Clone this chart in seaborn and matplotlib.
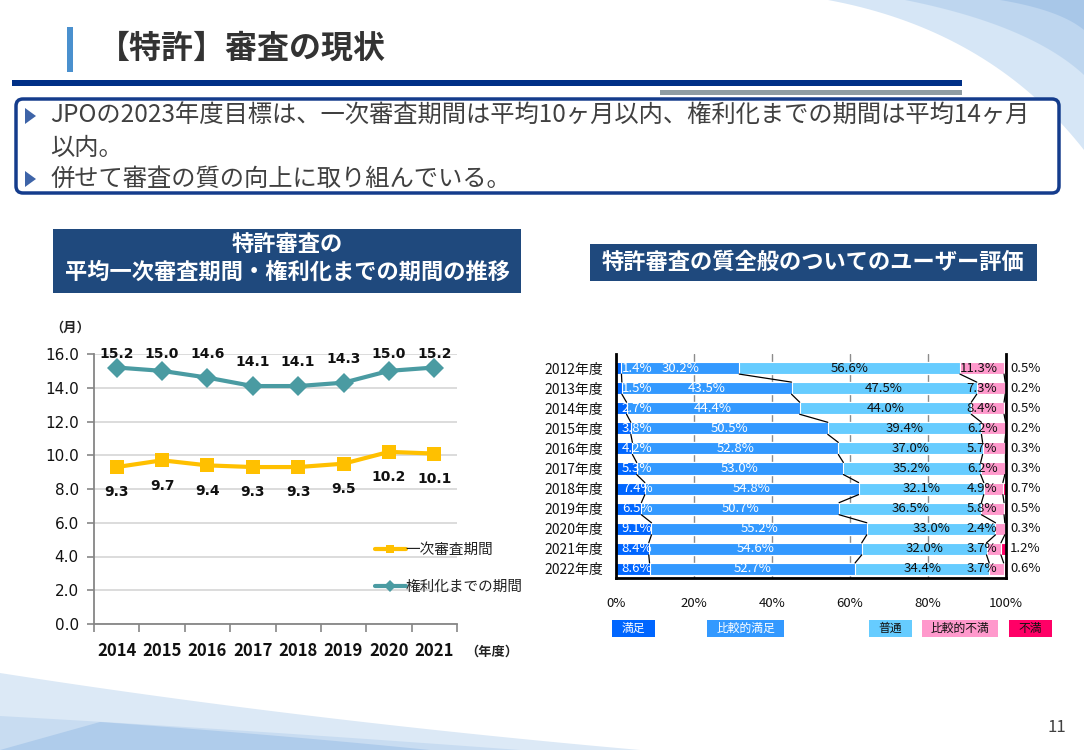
import numpy as np
import pandas as pd
import matplotlib
matplotlib.use("Agg")
import matplotlib.pyplot as plt
import seaborn as sns
from matplotlib.patches import Rectangle, FancyBboxPatch, Polygon

# ---------------- data ----------------
line_years = [2014, 2015, 2016, 2017, 2018, 2019, 2020, 2021]
first_action = [9.3, 9.7, 9.4, 9.3, 9.3, 9.5, 10.2, 10.1]
to_grant = [15.2, 15.0, 14.6, 14.1, 14.1, 14.3, 15.0, 15.2]
line_series = ["一次審査期間", "権利化までの期間"]

bar_years = ["2012年度", "2013年度", "2014年度", "2015年度", "2016年度", "2017年度",
             "2018年度", "2019年度", "2020年度", "2021年度", "2022年度"]
bar_cats = ["満足", "比較的満足", "普通", "比較的不満", "不満"]
satisfied = [1.4, 1.5, 2.7, 3.8, 4.2, 5.3, 7.4, 6.5, 9.1, 8.4, 8.6]
rather_satisfied = [30.2, 43.5, 44.4, 50.5, 52.8, 53.0, 54.8, 50.7, 55.2, 54.6, 52.7]
neutral = [56.6, 47.5, 44.0, 39.4, 37.0, 35.2, 32.1, 36.5, 33.0, 32.0, 34.4]
rather_dissatisfied = [11.3, 7.3, 8.4, 6.2, 5.7, 6.2, 4.9, 5.8, 2.4, 3.7, 3.7]
dissatisfied = [0.5, 0.2, 0.5, 0.2, 0.3, 0.3, 0.7, 0.5, 0.3, 1.2, 0.6]
pct_ticks = [0, 20, 40, 60, 80, 100]

bar_colors = ["#0066FF", "#3399FF", "#66CCFF", "#FF99CC", "#FF0066"]
line_colors = {"一次審査期間": "#FFC000", "権利化までの期間": "#4A9BA2"}

# ---------------- setup ----------------
sns.set_theme(style="white")
plt.rcParams["font.family"] = ["Noto Sans CJK JP", "DejaVu Sans"]

W, H = 1084, 750
fig = plt.figure(figsize=(W / 100, H / 100), dpi=100)
fig.patch.set_facecolor("white")

bg = fig.add_axes([0, 0, 1, 1])
bg.set_xlim(0, W)
bg.set_ylim(H, 0)
bg.axis("off")


def quad(p0, c, p1, n=40):
    t = np.linspace(0, 1, n)[:, None]
    p0, c, p1 = map(np.array, (p0, c, p1))
    return (1 - t) ** 2 * p0 + 2 * (1 - t) * t * c + t ** 2 * p1


# top-right swoosh
for (p0, c, p1, col, a) in [
    ((828, 0), (990, 30), (1084, 150), "#D6E6F6", 1.0),
    ((905, 0), (1030, 25), (1084, 75), "#B9D3EE", 0.8),
    ((1000, 0), (1060, 10), (1084, 30), "#9FC1E6", 0.7),
]:
    pts = quad(p0, c, p1)
    pts = np.vstack([pts, [[1084, 0]]])
    bg.add_patch(Polygon(pts, closed=True, facecolor=col, edgecolor="none", alpha=a))

# bottom-left swoosh
for (p0, c, p1, col, a) in [
    ((0, 673), (300, 720), (640, 750), "#DCE9F6", 1.0),
    ((0, 716), (250, 730), (520, 750), "#C6DBF1", 0.9),
    ((100, 722), (280, 735), (430, 750), "#A9C8EA", 0.8),
]:
    pts = quad(p0, c, p1)
    pts = np.vstack([pts, [[0, 750]]])
    bg.add_patch(Polygon(pts, closed=True, facecolor=col, edgecolor="none", alpha=a))

# title
bg.add_patch(Rectangle((67, 27), 6, 45, facecolor="#4A90CE", edgecolor="none"))
bg.text(98, 49, "【特許】審査の現状", fontsize=23, fontweight="bold", color="#333333",
        va="center", ha="left")
bg.add_patch(Rectangle((12, 80), 950, 6, facecolor="#003087", edgecolor="none"))
bg.add_patch(Rectangle((660, 90), 302, 5, facecolor="#8E9CA3", edgecolor="none"))

# text box
bg.add_patch(FancyBboxPatch((16, 99), 1043, 94, boxstyle="round,pad=0,rounding_size=7",
                            facecolor="white", edgecolor="#143C8C", linewidth=2.5))
for ty in (116, 179):
    bg.add_patch(Polygon([[25, ty - 8], [25, ty + 8], [36, ty]], closed=True,
                         facecolor="#3E64A8", edgecolor="none"))
txt_kw = dict(fontsize=17.5, color="#404040", va="center", ha="left")
bg.text(50, 116, "JPOの2023年度目標は、一次審査期間は平均10ヶ月以内、権利化までの期間は平均14ヶ月", **txt_kw)
bg.text(50, 148, "以内。", **txt_kw)
bg.text(50, 179, "併せて審査の質の向上に取り組んでいる。", **txt_kw)

# section headers
bg.add_patch(Rectangle((53, 229), 468, 64, facecolor="#1F497D", edgecolor="none"))
bg.text(287, 244, "特許審査の", fontsize=16, fontweight="bold", color="white", ha="center", va="center")
bg.text(287, 272, "平均一次審査期間・権利化までの期間の推移", fontsize=16, fontweight="bold",
        color="white", ha="center", va="center")
bg.add_patch(Rectangle((590, 244), 447, 37, facecolor="#1F497D", edgecolor="none"))
bg.text(813, 262, "特許審査の質全般のついてのユーザー評価", fontsize=16, fontweight="bold",
        color="white", ha="center", va="center")

bg.text(70, 328, "（月）", fontsize=9.5, fontweight="bold", color="#222222", ha="center", va="center")
bg.text(492, 652, "（年度）", fontsize=9.5, fontweight="bold", color="#222222", ha="center", va="center")
bg.text(1057, 727, "11", fontsize=12, color="#404040", ha="center", va="center")

# ---------------- left: line chart ----------------
ax1 = fig.add_axes([94 / W, 1 - 624 / H, (457 - 94) / W, 270 / H])
ax1.set_facecolor("none")
df_line = pd.DataFrame({
    "年度": line_years * 2,
    "期間": first_action + to_grant,
    "系列": [line_series[0]] * len(line_years) + [line_series[1]] * len(line_years),
})
sns.lineplot(data=df_line, x="年度", y="期間", hue="系列", style="系列",
             markers={line_series[0]: "s", line_series[1]: "D"}, dashes=False,
             palette=line_colors, linewidth=3, markersize=10, markeredgewidth=0, ax=ax1)

for x, v in zip(line_years, to_grant):
    ax1.text(x, min(v + 1.4, 16.0), f"{v:.1f}", ha="center", va="center", fontsize=10,
             fontweight="bold", family="DejaVu Sans", color="#111111", clip_on=False)
for x, v in zip(line_years, first_action):
    ax1.text(x, v - 1.5, f"{v:.1f}", ha="center", va="center", fontsize=10,
             fontweight="bold", family="DejaVu Sans", color="#111111", clip_on=False)

ax1.set_xlim(line_years[0] - 0.5, line_years[-1] + 0.5)
ax1.set_ylim(0, 16)
ax1.set_yticks(np.arange(0, 16.1, 2))
ax1.set_yticklabels([f"{v:.1f}" for v in np.arange(0, 16.1, 2)], family="DejaVu Sans", fontsize=11)
ax1.set_xticks(line_years)
ax1.set_xticklabels([str(y) for y in line_years], fontsize=12, fontweight="bold")
ax1.set_xticks(np.arange(line_years[0] - 0.5, line_years[-1] + 0.6, 1), minor=True)
ax1.tick_params(axis="x", which="major", length=0, pad=13, colors="#111111")
ax1.tick_params(axis="x", which="minor", length=6, width=1.2, color="#868686", direction="out", bottom=True)
ax1.tick_params(axis="y", length=5, width=1.2, color="#868686", direction="out", left=True, pad=6,
                labelcolor="#111111")
ax1.grid(axis="y", color="#D9D9D9", linewidth=1.3)
ax1.grid(axis="x", visible=False)
ax1.set_axisbelow(True)
for s in ("top", "right"):
    ax1.spines[s].set_visible(False)
for s in ("left", "bottom"):
    ax1.spines[s].set_color("#868686")
    ax1.spines[s].set_linewidth(1.3)
ax1.set_xlabel("")
ax1.set_ylabel("")

handles, labels = ax1.get_legend_handles_labels()
ax1.legend(handles, labels, loc="upper left", bbox_to_anchor=(375 / W, 1 - 543 / H),
           bbox_transform=fig.transFigure, frameon=False, handlelength=2.1, handletextpad=0.0,
           labelspacing=1.55, borderpad=0, borderaxespad=0, fontsize=10.5, markerscale=0.6,
           labelcolor="#222222")

# ---------------- right: stacked bar ----------------
ax2 = fig.add_axes([616 / W, 1 - 578 / H, 390 / W, 224 / H])
ax2.set_facecolor("none")
vals = np.array([satisfied, rather_satisfied, neutral, rather_dissatisfied, dissatisfied]).T
cum = np.cumsum(vals, axis=1)
for k in reversed(range(len(bar_cats))):
    sns.barplot(x=cum[:, k], y=bar_years, orient="h", color=bar_colors[k], saturation=1,
                width=0.6, edgecolor="white", linewidth=0.8, ax=ax2, zorder=2)

# series lines between bars
for k in range(len(bar_cats) - 1):
    for i in range(len(bar_years) - 1):
        ax2.plot([cum[i, k], cum[i + 1, k]], [i + 0.3, i + 0.7], color="black", lw=0.9, zorder=3)

txt_colors = ["white", "white", "#111111", "#111111", "#111111"]
for i in range(len(bar_years)):
    starts = np.concatenate([[0], cum[i, :-1]])
    for k in range(len(bar_cats)):
        v = vals[i, k]
        if k == 0:
            x, ha = 1.5, "left"
        elif k == 3:
            x, ha = 97.8, "right"
        elif k == 4:
            x, ha = 101.0, "left"
        else:
            x, ha = starts[k] + v / 2, "center"
        ax2.text(x, i, f"{v:.1f}%", ha=ha, va="center", fontsize=9.5, color=txt_colors[k],
                 zorder=4, clip_on=False)

ax2.set_xlim(0, 100)
ax2.set_ylim(len(bar_years) - 1 + 0.45, -0.7)
ax2.set_xticks(pct_ticks)
ax2.set_xticklabels([f"{t}%" for t in pct_ticks], fontsize=9.5)
ax2.tick_params(axis="x", length=0, pad=14, colors="#111111")
ax2.tick_params(axis="y", length=0, pad=9, labelsize=10, colors="#111111")
ax2.grid(axis="x", color="#8C8C8C", linewidth=1.0)
ax2.grid(axis="y", visible=False)
ax2.set_axisbelow(True)
ax2.spines["top"].set_visible(False)
for s in ("left", "right", "bottom"):
    ax2.spines[s].set_color("black")
    ax2.spines[s].set_linewidth(2)
ax2.set_xlabel("")
ax2.set_ylabel("")

# bar legend as labelled boxes
leg_boxes = [(612, 43), (707, 77), (869, 43), (922, 76), (1009, 43)]
for (x0, w), cat, col, tc in zip(leg_boxes, bar_cats, bar_colors, ["white", "white", "#111111", "#111111", "#111111"]):
    bg.add_patch(Rectangle((x0, 620), w, 17, facecolor=col, edgecolor="none"))
    bg.text(x0 + w / 2, 628.5, cat, fontsize=8.5, color=tc, ha="center", va="center")

fig.savefig("out.png", dpi=100, facecolor="white")
